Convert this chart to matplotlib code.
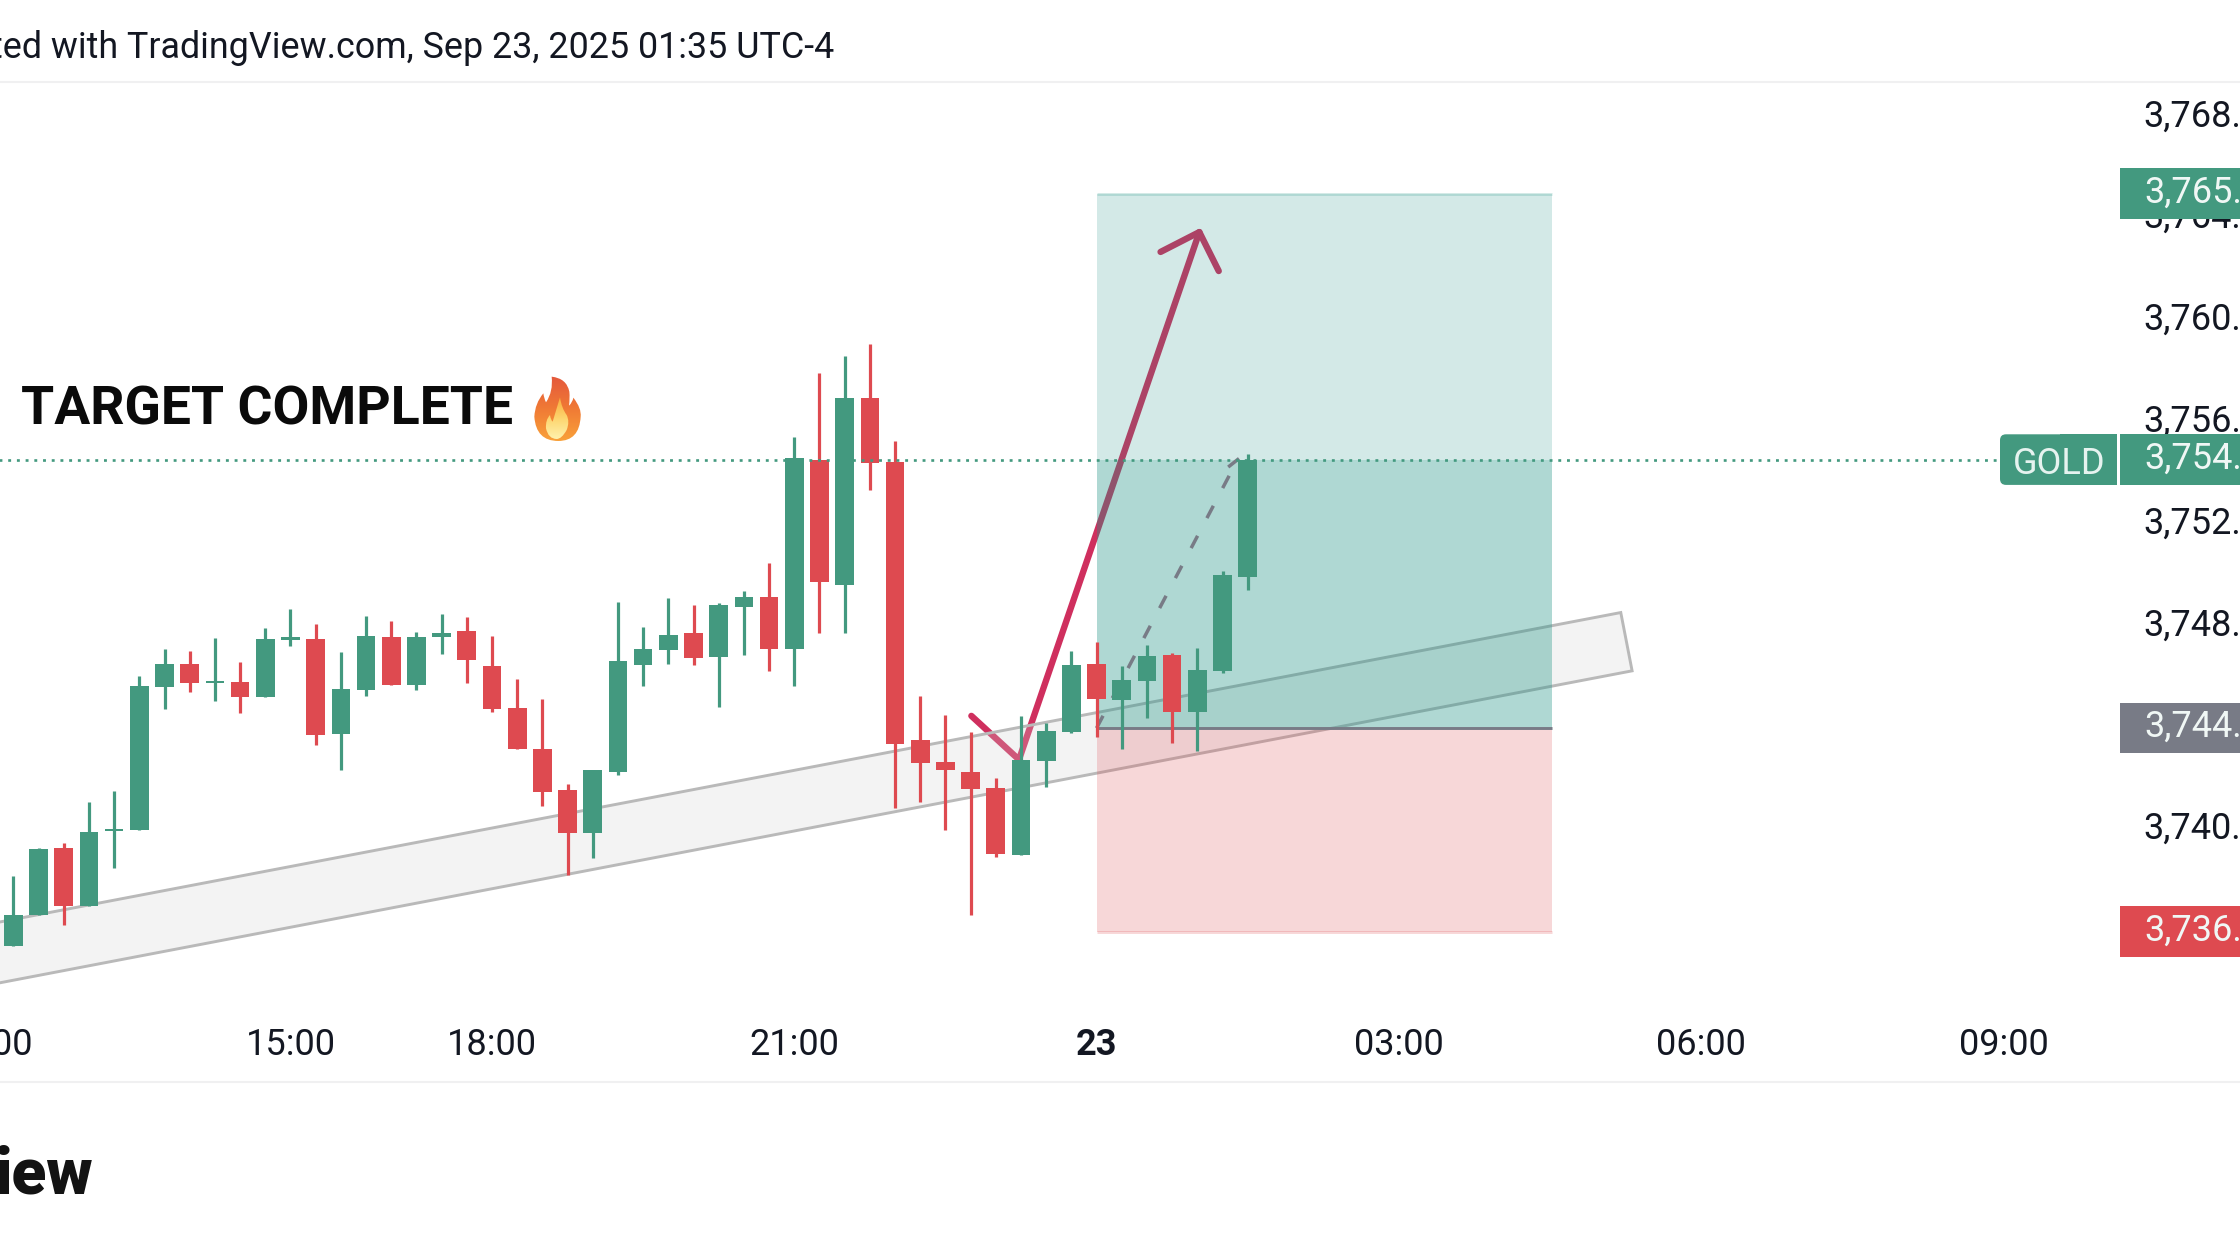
import numpy as np
import matplotlib
matplotlib.use("Agg")
import matplotlib.pyplot as plt
from matplotlib.patches import Rectangle, FancyBboxPatch, PathPatch, Polygon
from matplotlib.path import Path
from matplotlib.colors import LinearSegmentedColormap

# 15-minute gold candles, Sep 22-23 2025
opens = [3735.42, 3736.64, 3739.30, 3737.02, 3739.95, 3739.98, 3745.62, 3746.53, 3745.76, 3745.81,
         3745.23, 3747.48, 3747.50, 3743.76, 3745.50, 3747.58, 3745.69, 3747.58, 3747.82, 3746.44,
         3744.79, 3743.19, 3741.57, 3739.88, 3742.29, 3746.49, 3747.06, 3747.73, 3746.80, 3748.76,
         3749.15, 3747.11, 3754.55, 3749.63, 3756.98, 3754.47, 3743.54, 3742.67, 3742.28, 3741.64,
         3739.03, 3742.71, 3743.85, 3746.52, 3745.11, 3745.87, 3746.88, 3744.64, 3746.24, 3749.94]
closes = [3736.64, 3739.25, 3737.02, 3739.91, 3740.02, 3745.64, 3746.53, 3745.76, 3745.84, 3745.23,
          3747.50, 3747.58, 3743.73, 3745.54, 3747.60, 3745.69, 3747.58, 3747.72, 3746.68, 3744.77,
          3743.17, 3741.50, 3739.88, 3742.35, 3746.64, 3747.11, 3747.65, 3746.75, 3748.84, 3749.15,
          3747.11, 3754.62, 3749.75, 3756.98, 3754.43, 3743.38, 3742.63, 3742.36, 3741.61, 3739.05,
          3742.74, 3743.89, 3746.47, 3745.14, 3745.90, 3746.83, 3744.64, 3746.29, 3750.02, 3754.55]
highs = [3738.18, 3739.28, 3739.49, 3741.11, 3741.53, 3746.05, 3747.10, 3747.02, 3747.53, 3746.58,
         3747.94, 3748.69, 3748.11, 3747.00, 3748.42, 3748.21, 3747.77, 3748.47, 3748.37, 3747.62,
         3745.93, 3745.13, 3741.79, 3742.35, 3748.97, 3747.99, 3749.12, 3748.84, 3748.90, 3749.38,
         3750.48, 3755.44, 3757.96, 3758.62, 3759.09, 3755.28, 3745.26, 3744.53, 3743.85, 3742.04,
         3744.48, 3744.19, 3747.02, 3747.39, 3746.44, 3747.27, 3746.96, 3747.14, 3750.17, 3754.76]
lows = [3735.42, 3736.64, 3736.25, 3737.02, 3738.52, 3739.98, 3744.74, 3745.43, 3745.08, 3744.58,
        3745.23, 3747.24, 3743.32, 3742.37, 3745.28, 3745.69, 3745.49, 3746.93, 3745.76, 3744.65,
        3743.17, 3740.92, 3738.21, 3738.91, 3742.17, 3745.67, 3746.53, 3746.46, 3744.81, 3746.89,
        3746.23, 3745.67, 3747.75, 3747.75, 3753.37, 3740.86, 3741.10, 3739.98, 3736.64, 3738.95,
        3739.03, 3741.70, 3743.80, 3743.66, 3743.17, 3744.38, 3743.41, 3743.10, 3746.18, 3749.41]

# trade levels and price scale
last_price = 3754.55
target_price = 3765.0
entry_price = 3744.0
stop_price = 3736.0
price_ticks = [3768, 3764, 3760, 3756, 3752, 3748, 3740]
price_tick_labels = ["3,768.", "3,764.", "3,760.", "3,756.", "3,752.", "3,748.", "3,740."]

# time axis, in bar numbers
time_ticks = [-1, 11, 19, 31, 43, 55, 67, 79]
time_tick_labels = ["12:00", "15:00", "18:00", "21:00", "23", "03:00", "06:00", "09:00"]

# drawings on the chart: bar number, price
box_start, box_end = 43.0, 61.08
channel_bars = [-0.6, 63.81, 64.26, -0.6]
channel_prices = [3736.37, 3748.54, 3746.25, 3733.98]
arrow_bars = [38.03, 39.92, 47.08]
arrow_prices = [3744.48, 3742.76, 3763.49]
head_bars = [45.54, 47.08, 47.85]
head_prices = [3762.71, 3763.49, 3761.96]
forecast_bars = [43.0, 48.6]
forecast_prices = [entry_price, last_price]
forecast_head_bars = [48.28, 48.6]
forecast_head_prices = [3754.3, last_price]

GREEN = "#43997F"
RED = "#DE4A50"
TEAL = "#239587"
GREY = "#787B86"
INK = "#131722"

plt.rcParams["font.family"] = ["Roboto", "DejaVu Sans"]
fig = plt.figure(figsize=(22.4, 12.6), dpi=100, facecolor="white")

# price pane: bar spacing 25.19 px, 25.45 px per dollar
ax = fig.add_axes([0, 0, 1, 1], frameon=False)
ax.set_xlim(-13.4 / 25.19, (2240 - 13.4) / 25.19)
ax.set_ylim(3768 - (1260 - 117.3) / 25.45, 3768 + 117.3 / 25.45)
ax.set_xticks([])
ax.set_yticks([])

# hand-drawn swing arrow sits underneath everything else
ax.plot(arrow_bars, arrow_prices, color="#CF2F5E", lw=4.6, solid_capstyle="round",
        solid_joinstyle="round", zorder=1)
ax.plot(head_bars, head_prices, color="#CF2F5E", lw=4.6, solid_capstyle="round",
        solid_joinstyle="round", zorder=1)

# rising channel
ax.add_patch(Polygon(np.column_stack([channel_bars, channel_prices]), closed=True,
                     facecolor="#D0D0D0", alpha=0.25, edgecolor="none", zorder=2))
ax.add_patch(Polygon(np.column_stack([channel_bars, channel_prices]), closed=True,
                     facecolor="none", edgecolor="#B9B9B9", lw=2.1, joinstyle="miter", zorder=2))

# long position box: profit zone, filled part of it, and risk zone
box_w = box_end - box_start
ax.add_patch(Rectangle((box_start, entry_price), box_w, target_price - entry_price,
                       facecolor=TEAL, alpha=0.2, edgecolor="none", zorder=3))
ax.add_patch(Rectangle((box_start, entry_price), box_w, last_price - entry_price,
                       facecolor=TEAL, alpha=0.2, edgecolor="none", zorder=3))
ax.add_patch(Rectangle((box_start, stop_price), box_w, entry_price - stop_price,
                       facecolor=RED, alpha=0.22, edgecolor="none", zorder=3))
ax.hlines(target_price, box_start, box_end, color=TEAL, alpha=0.2, lw=2.1, zorder=3)
ax.hlines(stop_price, box_start, box_end, color=RED, alpha=0.22, lw=2.1, zorder=3)
ax.hlines(entry_price, box_start, box_end, color=GREY, lw=2.1, zorder=3.5)

# projected path from entry to the current price
ax.plot(forecast_bars, forecast_prices, color=GREY, lw=2.5, linestyle=(0, (4, 5.76)), zorder=4)
ax.plot(forecast_head_bars, forecast_head_prices, color=GREY, lw=2.5, zorder=4)

# candles
bars = np.arange(len(opens))
o, c = np.array(opens), np.array(closes)
colors = [GREEN if up else RED for up in c >= o]
ax.vlines(bars, lows, highs, colors=colors, lw=2.3, zorder=5)
ax.bar(bars, np.maximum(np.abs(c - o), 0.1), bottom=np.minimum(o, c), width=0.74,
       color=colors, linewidth=0, zorder=5.1)

# current price line
ax.plot([-0.6, (2000 - 13.4) / 25.19], [last_price, last_price], color=GREEN, lw=1.9,
        linestyle=(0, (1.1, 2.2)), zorder=6)

# overlay in pixels for the chrome around the pane
ui = fig.add_axes([0, 0, 1, 1], frameon=False)
ui.set_xlim(0, 2240)
ui.set_ylim(1260, 0)
ui.set_xticks([])
ui.set_yticks([])
ui.patch.set_alpha(0)


def to_px_y(price):
    return ui.transData.inverted().transform(ax.transData.transform((0, price)))[1]


def to_px_x(bar):
    return ui.transData.inverted().transform(ax.transData.transform((bar, 0)))[0]


FS = 26.0
ui.hlines([81.5, 1081.5], 0, 2240, color="#F0F0F1", lw=1.5)

ui.text(834, 58, "ted with TradingView.com, Sep 23, 2025 01:35 UTC-4", ha="right", va="baseline",
        fontsize=25.8, color=INK)
ui.text(21, 424.5, "TARGET COMPLETE", ha="left", va="baseline", fontsize=38.5,
        fontweight="bold", color="#0A0A0A")
ui.text(93, 1194, "iew", ha="right", va="baseline", fontsize=46, fontweight="black", color="#131313")

for tick, label in zip(time_ticks, time_tick_labels):
    bold = label == "23"
    x = to_px_x(tick)
    if label == "12:00":
        ui.text(33, 1055, "00", ha="right", va="baseline", fontsize=FS, color=INK)
    else:
        ui.text(x, 1055, label, ha="center", va="baseline", fontsize=FS, color=INK,
                fontweight="bold" if bold else "normal")

for tick, label in zip(price_ticks, price_tick_labels):
    ui.text(2143, to_px_y(tick) + 9, label, ha="left", va="baseline", fontsize=FS, color=INK, zorder=2)

# price tags on the scale
tags = [(target_price, "3,765.", GREEN), (last_price, "3,754.", GREEN),
        (entry_price, "3,744.", GREY), (stop_price, "3,736.", RED)]
for price, label, colour in tags:
    y = to_px_y(price)
    ui.add_patch(Rectangle((2120, y - 25.3), 120, 50.6, facecolor=colour, edgecolor="none", zorder=3))
    ui.text(2144, y + 9, label, ha="left", va="baseline", fontsize=FS, color="#F0F7F5", zorder=4)

y = to_px_y(last_price)
ui.add_patch(FancyBboxPatch((2004, y - 21.3), 109, 42.6, boxstyle="round,pad=4,rounding_size=6",
                            facecolor=GREEN, edgecolor="none", zorder=3))
ui.add_patch(Rectangle((2060, y - 25.3), 57, 50.6, facecolor=GREEN, edgecolor="none", zorder=3))
ui.text(2059, y + 14, "GOLD", ha="center", va="baseline", fontsize=FS, color="#E6F3EF", zorder=4)


# flame next to the headline, built from curved outlines filled with vertical gradients
def flame_path(points, ox=520, oy=365, k=1 / 3):
    verts, codes = [], []
    for i, p in enumerate(points):
        verts.append((ox + p[0] * k, oy + p[1] * k))
        codes.append(Path.MOVETO if i == 0 else Path.CURVE3)
    return Path(verts, codes)


outer = flame_path([(95, 35), (140, 40), (148, 80), (150, 100), (147, 122), (158, 112), (160, 98),
                    (185, 130), (182, 155), (178, 228), (115, 228), (48, 228), (43, 155),
                    (45, 115), (70, 85), (72, 100), (78, 112), (100, 80), (95, 35)])
inner = flame_path([(120, 97), (125, 130), (140, 150), (150, 170), (140, 195), (125, 222), (110, 222),
                    (85, 222), (78, 190), (76, 165), (90, 150), (92, 165), (98, 170), (110, 130),
                    (120, 97)])
for path, stops, top, bottom in [
    (outer, ["#E4573C", "#F07A35", "#F9A23A"], 375, 442),
    (inner, ["#F9A93A", "#FDD56E", "#FFF3B0"], 396, 440),
]:
    ramp = LinearSegmentedColormap.from_list("flame", stops)
    img = ui.imshow(np.linspace(0, 1, 128).reshape(-1, 1), cmap=ramp, aspect="auto",
                    extent=(520, 595, bottom, top), zorder=5, interpolation="bilinear")
    img.set_clip_path(PathPatch(path, transform=ui.transData))
ui.set_xlim(0, 2240)
ui.set_ylim(1260, 0)

fig.savefig("out.png", dpi=100, facecolor="white")
